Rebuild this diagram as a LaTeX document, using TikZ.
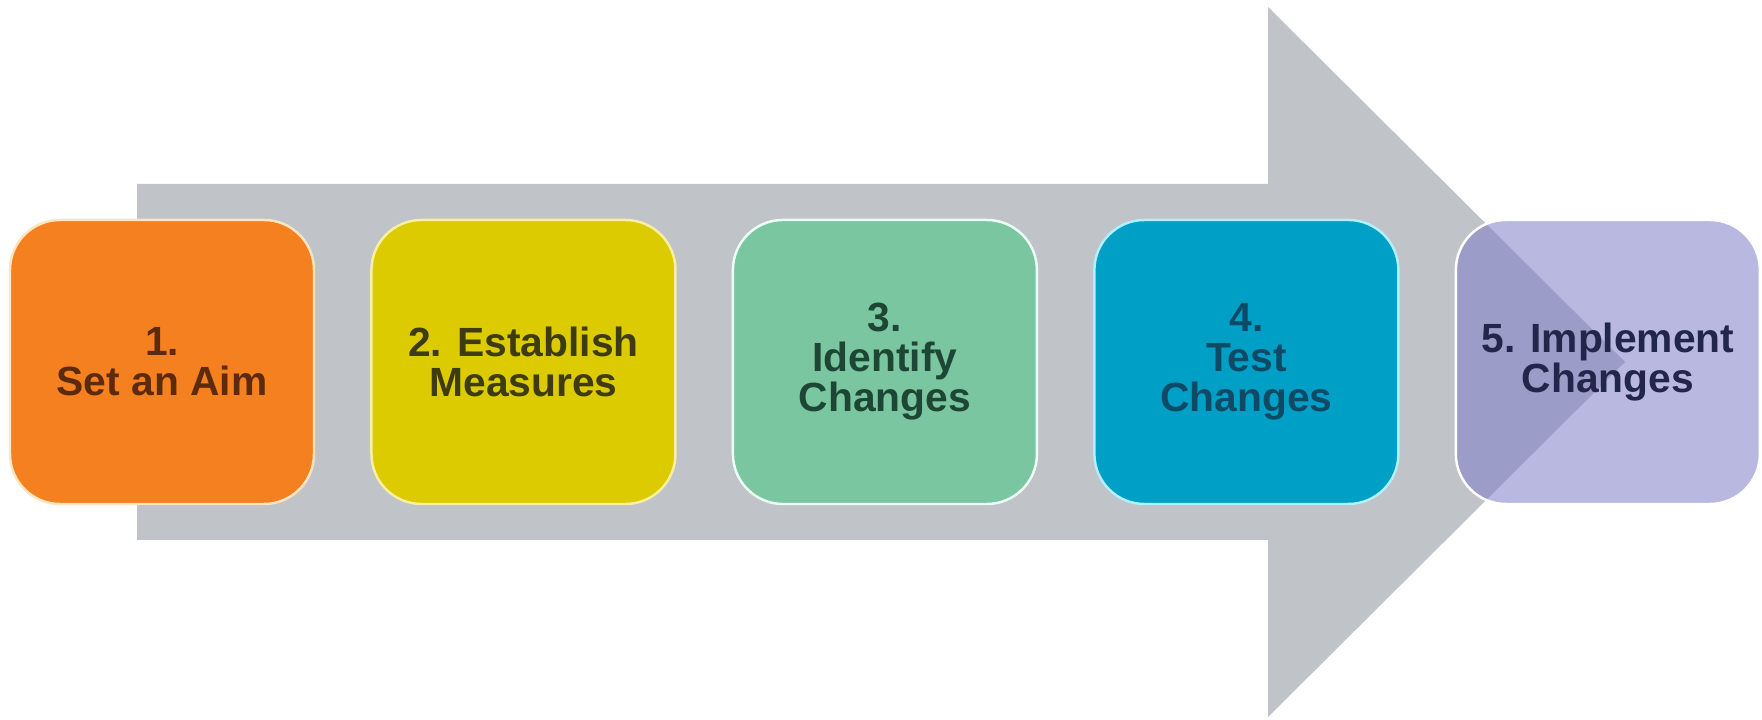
\documentclass[tikz,border=0pt]{standalone}
\usepackage{fontspec}
\setmainfont{Liberation Sans}
\usepackage{xcolor}
\usetikzlibrary{positioning}
\definecolor{arrowgray}{RGB}{192,195,200}
\definecolor{aimfill}{RGB}{244,128,32}
\definecolor{measfill}{RGB}{220,203,0}
\definecolor{identfill}{RGB}{122,198,160}
\definecolor{testfill}{RGB}{0,160,198}
\definecolor{implfill}{RGB}{126,126,200}
\tikzset{
  stage/.style={draw, rounded corners=0.5cm, minimum width=3.04cm, minimum height=2.84cm,
    align=center, inner sep=2pt, line width=0.7pt,
    font=\fontsize{11.6pt}{11.4pt}\selectfont\bfseries},
  aim/.style={stage, fill=aimfill, draw={rgb,255:red,255;green,228;blue,192}, text={rgb,255:red,92;green,42;blue,12}},
  meas/.style={stage, fill=measfill, draw={rgb,255:red,248;green,240;blue,160}, text={rgb,255:red,62;green,58;blue,18}},
  ident/.style={stage, fill=identfill, draw={rgb,255:red,236;green,255;blue,246}, text={rgb,255:red,30;green,70;blue,52}},
  test/.style={stage, fill=testfill, draw={rgb,255:red,176;green,240;blue,255}, text={rgb,255:red,14;green,74;blue,102}},
  impl/.style={stage, fill=implfill, fill opacity=0.55, text opacity=1, draw=white, text={rgb,255:red,34;green,38;blue,74}},
}

\begin{document}
\begin{tikzpicture}
  \useasboundingbox (0,0) rectangle (17.62,7.2);
  % big grey process arrow behind the steps
  \fill[arrowgray] (1.37,5.36) -- (12.68,5.36) -- (12.68,7.13) -- (16.25,3.58)
    -- (12.68,0.03) -- (12.68,1.80) -- (1.37,1.80) -- cycle;
  \node[aim] (s1) at (1.62,3.58) {1.\\ Set an Aim};
  \node[meas, right=0.55cm of s1] (s2) {2. Establish\\ Measures};
  \node[ident, right=0.55cm of s2] (s3) {3.\\ Identify\\ Changes};
  \node[test, right=0.55cm of s3] (s4) {4.\\ Test\\ Changes};
  \node[impl, right=0.55cm of s4] (s5) {5. Implement\\ Changes};
\end{tikzpicture}
\end{document}
